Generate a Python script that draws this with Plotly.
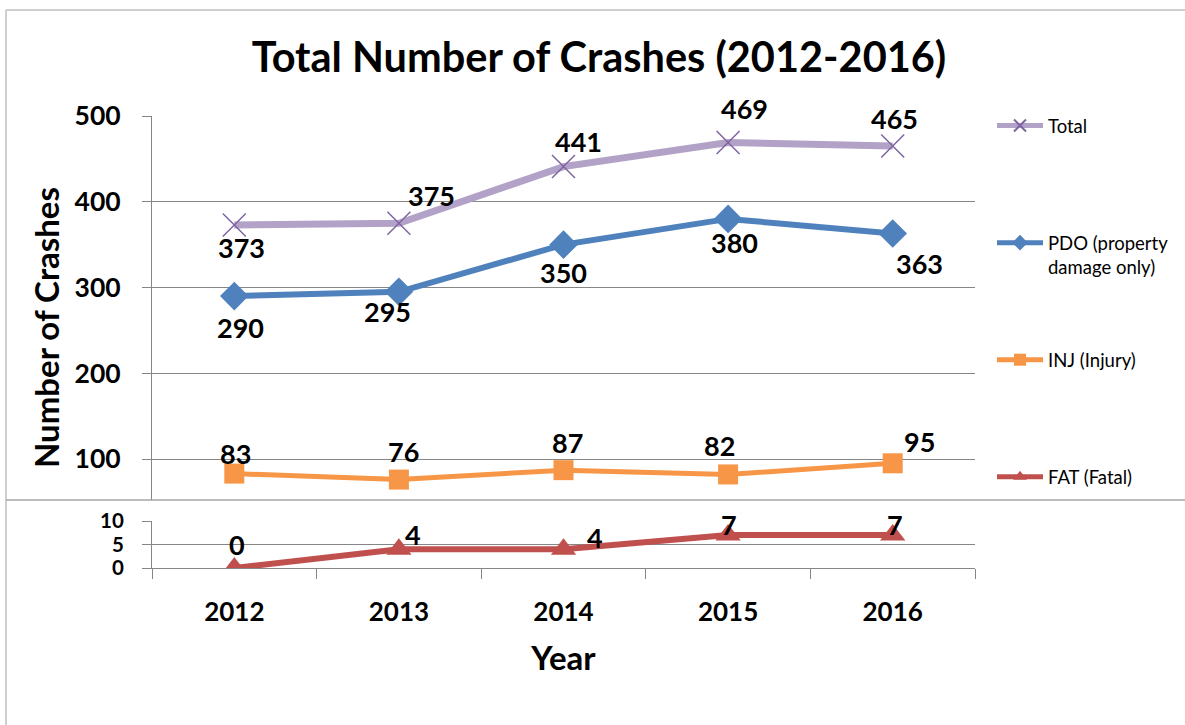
import plotly.graph_objects as go

W, H = 1185, 725

years = ["2012", "2013", "2014", "2015", "2016"]
total = [373, 375, 441, 469, 465]
pdo = [290, 295, 350, 380, 363]
inj = [83, 76, 87, 82, 95]
fat = [0, 4, 4, 7, 7]

# label offsets in px (dx, dy up)
total_off = [(7, -23), (33, 28), (15, 25), (16, 34), (2, 28)]
pdo_off = [(6, -31), (-11, -20), (0, -28), (6, -24), (27, -30)]
inj_off = [(1, 20), (5, 28), (4, 28), (-9, 29), (27, 22)]
fat_off = [(3, 24), (14, 15), (31, 12), (1, 11), (2, 11)]

FONT = "Lato"
GRID = "#868686"


def px(x):
    return x / W


def py(y):
    return 1 - y / H


fig = go.Figure()

fig.add_trace(go.Scatter(
    x=years, y=total, name="Total<br> ", mode="lines+markers", legendgroup="a",
    line=dict(color="#B3A2C7", width=7),
    marker=dict(symbol="x-thin", size=23, line=dict(color="#8064A2", width=1.5)),
    xaxis="x", yaxis="y"))
fig.add_trace(go.Scatter(
    x=years, y=pdo, name="PDO (property<br>damage only)", mode="lines+markers", legendgroup="b",
    line=dict(color="#4F81BD", width=6),
    marker=dict(symbol="diamond", size=22, color="#4F81BD"),
    xaxis="x", yaxis="y"))
fig.add_trace(go.Scatter(
    x=years, y=inj, name="INJ (Injury)<br> ", mode="lines+markers", legendgroup="c",
    line=dict(color="#F79646", width=5),
    marker=dict(symbol="square", size=20, color="#F79646"),
    xaxis="x", yaxis="y"))
fig.add_trace(go.Scatter(
    x=years, y=fat, name="FAT (Fatal)<br> ", mode="lines+markers", legendgroup="d",
    line=dict(color="#C0504D", width=6),
    marker=dict(symbol="triangle-up", size=22, color="#C0504D"),
    xaxis="x2", yaxis="y2"))

ann = []
for vals, offs, ax in [(total, total_off, ""), (pdo, pdo_off, ""),
                       (inj, inj_off, ""), (fat, fat_off, "2")]:
    for i, (v, (dx, dy)) in enumerate(zip(vals, offs)):
        ann.append(dict(x=i, y=v, xref="x" + ax, yref="y" + ax,
                        text=str(v), showarrow=False, xshift=dx, yshift=dy,
                        font=dict(family=FONT, size=27, color="black", weight="bold")))

ann.append(dict(x=px(46), y=py(328), xref="paper", yref="paper", text="Number of Crashes",
                textangle=-90, showarrow=False, xanchor="center", yanchor="middle",
                font=dict(family=FONT, size=33, color="black", weight="bold")))

xdom = [px(152), px(975)]
fig.update_layout(
    width=W, height=H,
    margin=dict(l=0, r=0, t=0, b=0),
    paper_bgcolor="white", plot_bgcolor="white",
    title=dict(text="Total Number of Crashes (2012-2016)", x=px(599), y=py(57),
               xanchor="center", yanchor="middle",
               font=dict(family=FONT, size=41.5, color="black", weight="bold")),
    xaxis=dict(domain=xdom, type="category", range=[-0.5, 4.5], showticklabels=False,
               showgrid=False, showline=False, ticks="", zeroline=False, automargin=False),
    yaxis=dict(domain=[py(500), py(116)], range=[52.2, 500], tickvals=[100, 200, 300, 400, 500],
               showline=True, linecolor=GRID, linewidth=1, gridcolor=GRID, gridwidth=1,
               ticks="outside", ticklen=9, tickcolor=GRID, zeroline=False,
               ticklabelstandoff=16, automargin=False,
               tickfont=dict(family=FONT, size=26.5, color="black", weight="bold")),
    xaxis2=dict(domain=xdom, type="category", range=[-0.5, 4.5], anchor="y2",
                showline=True, linecolor=GRID, linewidth=1, showgrid=False,
                ticks="outside", tickson="boundaries", ticklen=10, tickcolor=GRID,
                ticklabelstandoff=21, automargin=False,
                tickfont=dict(family=FONT, size=26, color="black", weight="bold"),
                title=dict(text="Year", standoff=20,
                           font=dict(family=FONT, size=33, color="black", weight="bold"))),
    yaxis2=dict(domain=[py(568), py(521)], range=[0, 10], tickvals=[0, 5, 10], anchor="x2",
                showline=True, linecolor=GRID, linewidth=1, gridcolor=GRID, gridwidth=1,
                ticks="outside", ticklen=9, tickcolor=GRID, zeroline=False,
                ticklabelstandoff=14, automargin=False,
                tickfont=dict(family=FONT, size=20.5, color="black", weight="bold")),
    legend=dict(x=px(992), y=py(107), xanchor="left", yanchor="top", valign="top",
                itemwidth=46, itemsizing="constant", tracegroupgap=66,
                font=dict(family=FONT, size=18.5, color="black"), bgcolor="rgba(0,0,0,0)"),
    annotations=ann,
    shapes=[
        dict(type="line", xref="paper", yref="paper", x0=px(6), x1=1, y0=py(10), y1=py(10),
             line=dict(color="#BFBFBF", width=1.5)),
        dict(type="line", xref="paper", yref="paper", x0=px(6), x1=px(6), y0=py(10), y1=0,
             line=dict(color="#BFBFBF", width=1.5)),
        dict(type="line", xref="paper", yref="paper", x0=px(6), x1=1, y0=py(500), y1=py(500),
             line=dict(color="#A6A6A6", width=1.5)),
    ],
)

fig.write_html("out.html", config={"displayModeBar": False},
               post_script="document.body.style.margin='0';")
